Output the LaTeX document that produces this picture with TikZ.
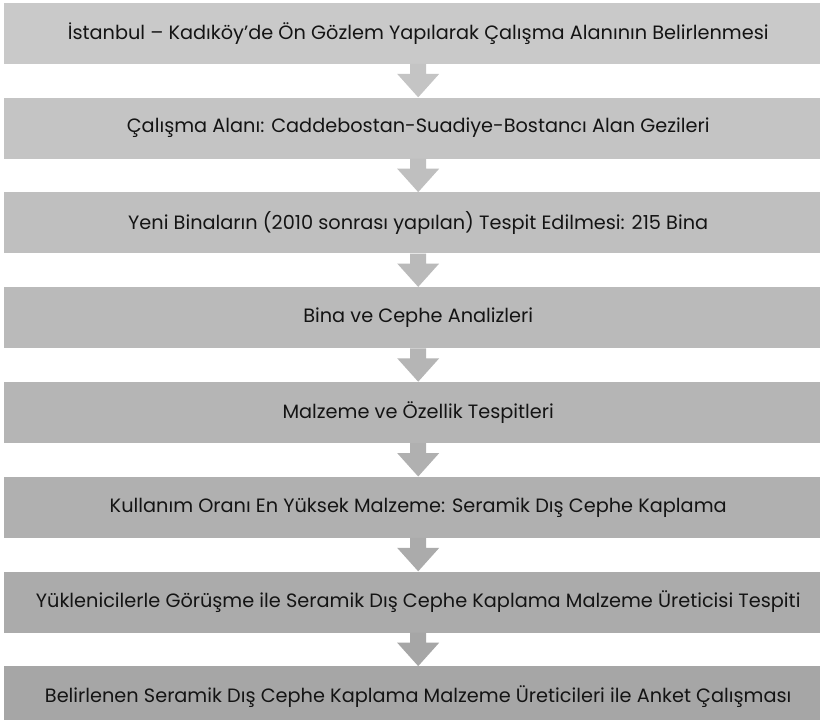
\documentclass[tikz,border=0pt]{standalone}
\usepackage{fontspec}
\setmainfont{Poppins}
\usetikzlibrary{calc}
\definecolor{c1}{RGB}{201,201,201}
\definecolor{c2}{RGB}{196,196,196}
\definecolor{c3}{RGB}{191,191,191}
\definecolor{c4}{RGB}{186,186,186}
\definecolor{c5}{RGB}{181,181,181}
\definecolor{c6}{RGB}{176,176,176}
\definecolor{c7}{RGB}{171,171,171}
\definecolor{c8}{RGB}{166,166,166}
\definecolor{txt}{RGB}{20,20,20}
\tikzset{
  stepbox/.style={rectangle, minimum width=828pt, minimum height=61pt, inner sep=0pt,
    text=txt, font=\fontsize{19.3}{22}\selectfont, anchor=west},
}
\newcommand{\flowarr}[3]{%
  \fill[#3] ($(#1.south)+(-8,0)$) -- ($(#1.south)+(8,0)$) -- ($(#1.south)+(8,10)$)
    -- ($(#1.south)+(21,10)$) -- (#2.north) -- ($(#1.south)+(-21,10)$)
    -- ($(#1.south)+(-8,10)$) -- cycle;}
\begin{document}
\begin{tikzpicture}[x=1pt,y=-1pt]
\useasboundingbox[fill=white] (0,0) rectangle (820,720);
\node[stepbox, fill=c1] (b1) at (4,33.2) {İstanbul – Kadıköy’de Ön Gözlem Yapılarak Çalışma Alanının Belirlenmesi};
\node[stepbox, fill=c2] (b2) at (4,128) {Çalışma Alanı: Caddebostan-Suadiye-Bostancı Alan Gezileri};
\node[stepbox, fill=c3] (b3) at (4,222.8) {Yeni Binaların (2010 sonrası yapılan) Tespit Edilmesi: 215 Bina};
\node[stepbox, fill=c4] (b4) at (4,317.6) {Bina ve Cephe Analizleri};
\node[stepbox, fill=c5] (b5) at (4,412.4) {Malzeme ve Özellik Tespitleri};
\node[stepbox, fill=c6] (b6) at (4,507.2) {Kullanım Oranı En Yüksek Malzeme: Seramik Dış Cephe Kaplama};
\node[stepbox, fill=c7] (b7) at (4,602) {Yüklenicilerle Görüşme ile Seramik Dış Cephe Kaplama Malzeme Üreticisi Tespiti};
\node[stepbox, fill=c8] (b8) at (4,696.8) {Belirlenen Seramik Dış Cephe Kaplama Malzeme Üreticileri ile Anket Çalışması};
\flowarr{b1}{b2}{c2}
\flowarr{b2}{b3}{c3}
\flowarr{b3}{b4}{c4}
\flowarr{b4}{b5}{c5}
\flowarr{b5}{b6}{c6}
\flowarr{b6}{b7}{c7}
\flowarr{b7}{b8}{c8}
\end{tikzpicture}
\end{document}
